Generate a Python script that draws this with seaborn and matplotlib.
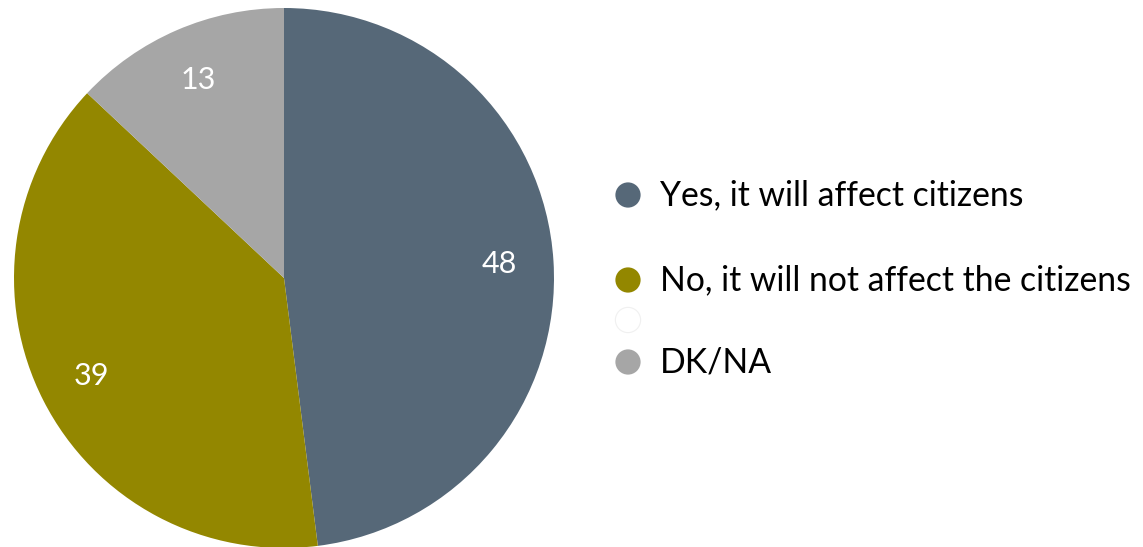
import matplotlib
matplotlib.use("Agg")
import matplotlib.pyplot as plt
import seaborn as sns
import pandas as pd

# data
categories = ["Yes, it will affect citizens", "No, it will not affect the citizens", "", "DK/NA"]
values = [48, 39, 0, 13]
colors = ["#566878", "#938700", "#ffffff", "#a6a6a6"]
# legend row heights (pixels from top) - spacing in the original is uneven
legend_rows = [195, 280, 320, 362]

sns.set_style("white")
plt.rcParams["font.family"] = ["Lato", "DejaVu Sans"]

W, H = 1143, 547
fig = plt.figure(figsize=(W / 100, H / 100), dpi=100)

# pie axes, square, centred around (284, 278) px with radius ~270
ax = fig.add_axes([14 / W, (H - 278 - 270) / H, 540 / W, 540 / H])
shown = [(v, c, l) for v, c, l in zip(values, colors, categories) if v > 0]
wedges, texts = ax.pie(
    [s[0] for s in shown],
    colors=[s[1] for s in shown],
    labels=[str(s[0]) for s in shown],
    labeldistance=0.8,
    startangle=90,
    counterclock=False,
    radius=1,
    wedgeprops=dict(linewidth=0),
    textprops=dict(color="white", fontsize=22),
)
for t in texts:
    t.set_ha("center")
    t.set_va("center")
ax.set_xlim(-1, 1)
ax.set_ylim(-1, 1)
ax.set_aspect("equal")
ax.axis("off")

# manual legend on its own axes in pixel coordinates
lax = fig.add_axes([0, 0, 1, 1])
leg = pd.DataFrame({"x": [628] * 4, "y": legend_rows, "cat": categories})
sns.scatterplot(data=leg, x="x", y="y", hue="cat", palette=colors, s=330,
                edgecolor=["none", "none", "#f0f0f0", "none"], linewidth=0.8,
                legend=False, ax=lax)
for y, lab in zip(legend_rows, categories):
    lax.text(660, y, lab, fontsize=24.3, va="center", ha="left", color="black")
lax.set_xlim(0, W)
lax.set_ylim(H, 0)
lax.axis("off")

fig.savefig("out.png", dpi=100, facecolor="white")
